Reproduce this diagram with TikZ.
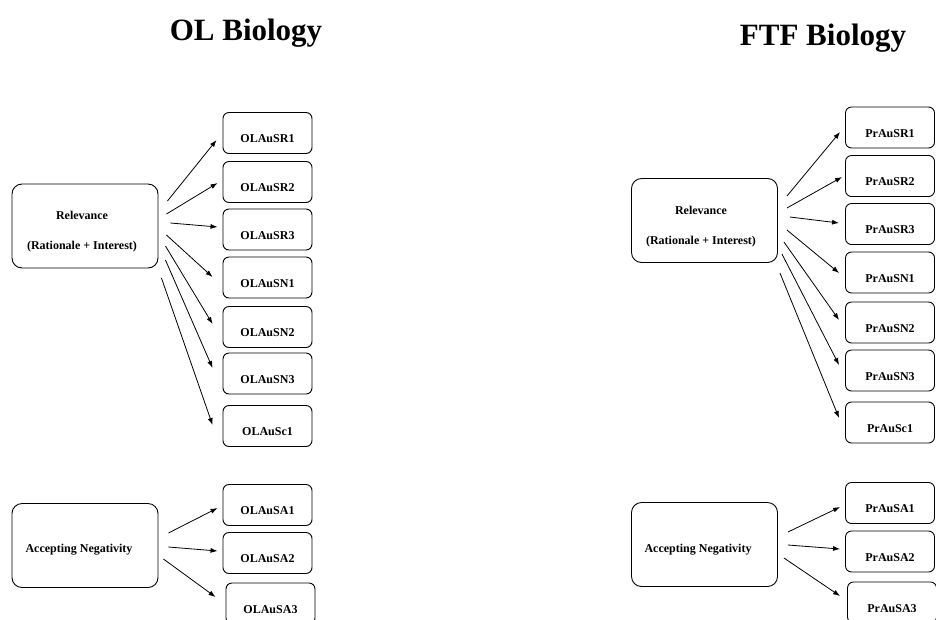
\documentclass[tikz,border=0pt]{standalone}
\usepackage{fontspec}
\setmainfont{Liberation Serif}
\usetikzlibrary{arrows.meta}
\tikzset{
  sbox/.style={draw, line width=0.9pt, rounded corners=6pt, inner sep=0pt,
    minimum width=89pt, text height=30pt, text depth=11pt,
    font=\bfseries\fontsize{12}{14}\selectfont},
  bbox/.style={draw, line width=0.9pt, rounded corners=10pt,
    minimum width=146pt, minimum height=84pt},
  btext/.style={align=center, inner sep=0pt, font=\bfseries\fontsize{12}{14}\selectfont},
  ttl/.style={anchor=base, inner sep=0pt, font=\bfseries\fontsize{31}{36}\selectfont},
  arr/.style={line width=0.8pt, -{Latex[length=7pt,width=5pt]}}
}

\begin{document}
\begin{tikzpicture}[x=1pt,y=-1pt]
   \useasboundingbox (0,0) rectangle (936,619);
   \clip (0,0) rectangle (936,619);
   % titles
   \node[ttl] (olT)  at (246,40) {OL Biology};
   \node[ttl] (ftfT) at (823,45) {FTF Biology};
   \begin{scope}
    \node[bbox] (relL) at (85,226) {};
    \node[btext] (relLt) at (82,232) {Relevance\\[16pt](Rationale + Interest)};
    \node[bbox] (accL) at (85,545.5) {};
    \node[btext] (accLt) at (79,550) {Accepting Negativity};
    \node[sbox] (olsr1) at (267.5,133)   {OLAuSR1};
    \node[sbox] (olsr2) at (267.5,182)   {OLAuSR2};
    \node[sbox] (olsr3) at (267.5,229.5) {OLAuSR3};
    \node[sbox] (olsn1) at (267.5,277.5) {OLAuSN1};
    \node[sbox] (olsn2) at (267.5,327)   {OLAuSN2};
    \node[sbox] (olsn3) at (267.5,373.5) {OLAuSN3};
    \node[sbox] (olsc1) at (267.5,426)   {OLAuSc1};
    \node[sbox] (olsa1) at (267.5,505)   {OLAuSA1};
    \node[sbox] (olsa2) at (267.5,553)   {OLAuSA2};
    \node[sbox] (olsa3) at (270.5,603.5) {OLAuSA3};
    \draw[arr] ([shift={(9,-25)}]relL.east) -- ([shift={(-6,7)}]olsr1.west);
    \draw[arr] ([shift={(8,-12)}]relL.east) -- ([shift={(-5,1)}]olsr2.west);
    \draw[arr] ([shift={(12,-3)}]relL.east) -- ([shift={(-5,-2.5)}]olsr3.west);
    \draw[arr] ([shift={(8,9)}]relL.east)   -- ([shift={(-10,-0.5)}]olsn1.west);
    \draw[arr] ([shift={(7,20)}]relL.east)  -- ([shift={(-10,-3)}]olsn2.west);
    \draw[arr] ([shift={(7,34)}]relL.east)  -- ([shift={(-10,-5.5)}]olsn3.west);
    \draw[arr] ([shift={(3,52)}]relL.east)  -- ([shift={(-10,-1)}]olsc1.west);
    \draw[arr] ([shift={(10,-12.5)}]accL.east) -- ([shift={(-5,3)}]olsa1.west);
    \draw[arr] ([shift={(10,1.5)}]accL.east)   -- ([shift={(-5,-2)}]olsa2.west);
    \draw[arr] ([shift={(5,13.5)}]accL.east)   -- ([shift={(-10,-6.5)}]olsa3.west);
   \end{scope}
   \begin{scope}
    \node[bbox] (relR) at (704.5,220.5) {};
    \node[btext] (relRt) at (701,227) {Relevance\\[16pt](Rationale + Interest)};
    \node[bbox] (accR) at (704.5,544.5) {};
    \node[btext] (accRt) at (698,550) {Accepting Negativity};
    \node[sbox] (prsr1) at (890,127.5) {PrAuSR1};
    \node[sbox] (prsr2) at (890,176)   {PrAuSR2};
    \node[sbox] (prsr3) at (890,224)   {PrAuSR3};
    \node[sbox] (prsn1) at (890,272.5) {PrAuSN1};
    \node[sbox] (prsn2) at (890,322.5) {PrAuSN2};
    \node[sbox] (prsn3) at (890,370.5) {PrAuSN3};
    \node[sbox] (prsc1) at (890,422.5) {PrAuSc1};
    \node[sbox] (prsa1) at (890,503)   {PrAuSA1};
    \node[sbox] (prsa2) at (890,551.5) {PrAuSA2};
    \node[sbox] (prsa3) at (892,602.5) {PrAuSA3};
    \draw[arr] ([shift={(9,-24.5)}]relR.east) -- ([shift={(-5,4.5)}]prsr1.west);
    \draw[arr] ([shift={(9,-12.5)}]relR.east) -- ([shift={(-3,1)}]prsr2.west);
    \draw[arr] ([shift={(12,-3.5)}]relR.east) -- ([shift={(-6,-1)}]prsr3.west);
    \draw[arr] ([shift={(9,9.5)}]relR.east)   -- ([shift={(-6,0.5)}]prsn1.west);
    \draw[arr] ([shift={(6,21.5)}]relR.east)  -- ([shift={(-6,-2.5)}]prsn2.west);
    \draw[arr] ([shift={(4,33.5)}]relR.east)  -- ([shift={(-6,-5.5)}]prsn3.west);
    \draw[arr] ([shift={(2,52.5)}]relR.east)  -- ([shift={(-6,-4.5)}]prsc1.west);
    \draw[arr] ([shift={(10,-12.5)}]accR.east) -- ([shift={(-5,4)}]prsa1.west);
    \draw[arr] ([shift={(10,0.5)}]accR.east)   -- ([shift={(-5,-2.5)}]prsa2.west);
    \draw[arr] ([shift={(6,13.5)}]accR.east)   -- ([shift={(-7,-6.5)}]prsa3.west);
   \end{scope}
  \end{tikzpicture}
\end{document}
